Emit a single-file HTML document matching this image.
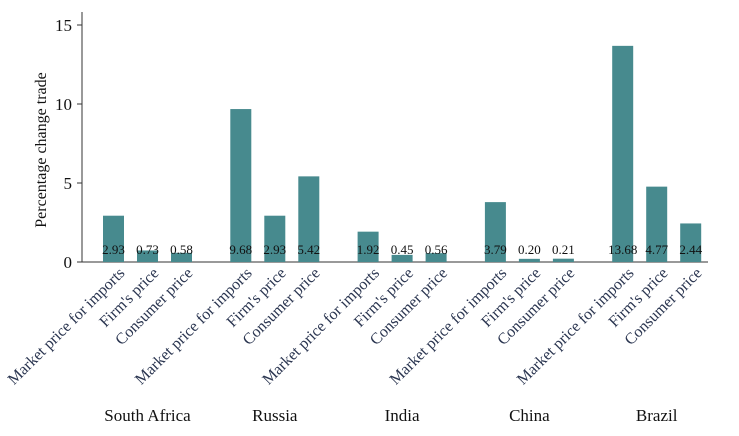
<!DOCTYPE html>
<html><head><meta charset="utf-8"><style>
body{margin:0;background:#fff}
svg{display:block;font-family:"Liberation Serif",serif}
</style></head><body>
<svg id="c" width="739" height="436">
<line x1="82" y1="12" x2="82" y2="262" stroke="#333"/>
<line x1="82" y1="262" x2="708" y2="262" stroke="#333"/>
<text x="0" y="0" transform="translate(46,150) rotate(-90)" text-anchor="middle" font-size="16" fill="#111">Percentage change trade</text>
<g id="g"></g>
</svg>
<script>
const countries=["South Africa","Russia","India","China","Brazil"];
const measures=["Market price for imports","Firm's price","Consumer price"];
const values=[[2.93,0.73,0.58],[9.68,2.93,5.42],[1.92,0.45,0.56],[3.79,0.20,0.21],[13.68,4.77,2.44]];
const yTicks=[0,5,10,15];
const NS="http://www.w3.org/2000/svg";
const g=document.getElementById('g');
const y=v=>262-v*15.8;
const gx=i=>113.5+i*127.3;
const bx=(i,j)=>gx(i)+j*34;
function mk(t,a){const e=document.createElementNS(NS,t);for(const k in a)e.setAttribute(k,a[k]);g.appendChild(e);return e;}
yTicks.forEach(t=>{
 const l=mk('line',{x1:77,x2:82,y1:y(t),y2:y(t),stroke:'#333'});
 
 
 const tx=mk('text',{x:72,y:y(t)+6,'text-anchor':'end','font-size':17,fill:'#111'});
 tx.textContent=t;
 
 
});
countries.forEach((c,i)=>{
 values[i].forEach((v,j)=>{
  const cx=bx(i,j);
  const r=mk('rect',{x:cx-10.5,y:y(v),width:21,height:262-y(v),fill:'#478a8e'});
  
  
  const t=mk('text',{x:cx,y:254,'text-anchor':'middle','font-size':13,fill:'#111'});
  t.textContent=v.toFixed(2);
  
  
  const m=mk('text',{x:0,y:0,transform:`translate(${cx+12},${274}) rotate(-45)`,'text-anchor':'end','font-size':16,fill:'#2a3550'});
  m.textContent=measures[j];
  
  
 });
 const ct=mk('text',{x:bx(i,1),y:421,'text-anchor':'middle','font-size':17,fill:'#111'});
 ct.textContent=c;
 
 
});
</script>
</body></html>
